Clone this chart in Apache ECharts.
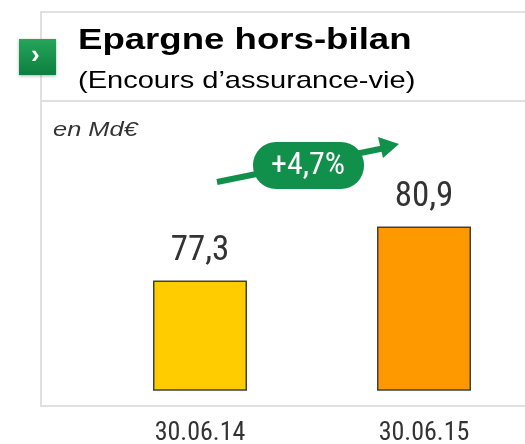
<!DOCTYPE html>
<html>
<head>
<meta charset="utf-8">
<script src="https://cdn.jsdelivr.net/npm/echarts@6/dist/echarts.min.js"></script>
<style>
  html, body { margin: 0; padding: 0; background: #fff; }
  #chart { width: 525px; height: 444px; }
</style>
</head>
<body>
<div id="chart"></div>
<script>
const categories = ['30.06.14', '30.06.15'];
const values = [77.3, 80.9];
const barColors = ['#ffcc00', '#ff9900'];
const growthLabel = '+4,7%';

const condensed = '"Roboto Condensed", "DejaVu Sans Condensed", "Liberation Sans Narrow", sans-serif';
const arial = '"Liberation Sans", Arial, sans-serif';
const green = '#11904c';

const chart = echarts.init(document.getElementById('chart'));

chart.setOption({
  animation: false,
  grid: { left: 88, width: 448, top: 90, bottom: 54, outerBoundsMode: 'none', containLabel: false },
  xAxis: {
    type: 'category',
    data: categories,
    axisLine: { show: false },
    axisTick: { show: false },
    axisLabel: {
      color: '#333',
      fontSize: 26,
      fontFamily: condensed,
      margin: 30
    }
  },
  yAxis: {
    type: 'value',
    min: 70,
    max: 90,
    show: false
  },
  series: [{
    type: 'bar',
    barWidth: 94,
    data: values.map((v, i) => ({
      value: v,
      itemStyle: { color: barColors[i] }
    })),
    itemStyle: { borderColor: '#404040', borderWidth: 1.5 },
    label: {
      show: true,
      position: 'top',
      distance: 12,
      color: '#333',
      fontSize: 35,
      fontFamily: condensed,
      formatter: p => String(p.value).replace('.', ',')
    }
  }],
  graphic: [
    // frame
    { type: 'polyline', shape: { points: [[541, 12], [41, 12], [41, 406], [541, 406]] },
      style: { stroke: '#e0e0e0', lineWidth: 2, fill: null } },
    { type: 'line', shape: { x1: 41, y1: 101, x2: 541, y2: 101 },
      style: { stroke: '#e0e0e0', lineWidth: 2 } },
    // icon
    { type: 'rect', shape: { x: 19, y: 39, width: 37, height: 36 },
      style: {
        fill: new echarts.graphic.LinearGradient(0, 0, 0, 1, [
          { offset: 0, color: '#25a55a' }, { offset: 1, color: '#0d7f3f' }
        ]),
        shadowBlur: 3, shadowColor: 'rgba(0,0,0,0.3)', shadowOffsetY: 1
      } },
    { type: 'text', left: 31, top: 43,
      style: { text: '›', fill: '#fff', font: 'bold 26px ' + arial } },
    // titles (reference text is horizontally stretched)
    { type: 'text', x: 78, y: 26, scaleX: 1.22,
      style: { text: 'Epargne hors-bilan', fill: '#000', font: 'bold 30px ' + arial } },
    { type: 'text', x: 78, y: 69, scaleX: 1.21,
      style: { text: '(Encours d\u2019assurance-vie)', fill: '#000', font: '24px ' + arial } },
    { type: 'text', x: 53, y: 120, scaleX: 1.27,
      style: { text: 'en Md€', fill: '#333', font: 'italic 20px ' + arial } },
    // growth arrow
    { type: 'line', shape: { x1: 217, y1: 182, x2: 385, y2: 148 },
      style: { stroke: green, lineWidth: 6 } },
    { type: 'polygon', shape: { points: [[399, 144], [378, 137], [383, 158]] },
      style: { fill: green } },
    { type: 'rect', shape: { x: 253, y: 142, width: 111, height: 47, r: 23 },
      style: { fill: green } },
    { type: 'text', x: 308, y: 166,
      style: { text: growthLabel, fill: '#fff', font: '32px ' + condensed, align: 'center', verticalAlign: 'middle' } }
  ]
});
</script>
</body>
</html>
